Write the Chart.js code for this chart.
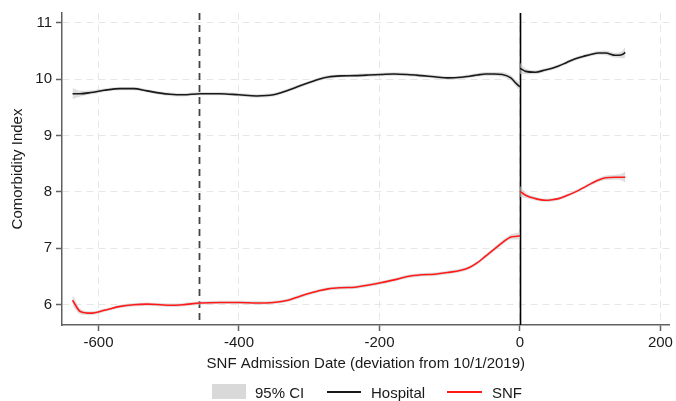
<!DOCTYPE html>
<html><head><meta charset="utf-8">
<script src="https://cdn.jsdelivr.net/npm/chart.js@4"></script>
<style>
html,body{margin:0;padding:0;background:#fff;}
#wrap{position:relative;width:676px;height:401px;}
#c{position:absolute;left:0;top:0;}
.lg{position:absolute;font-family:"Liberation Sans",Arial,sans-serif;font-size:15px;color:#1a1a1a;line-height:17px;white-space:nowrap;}
.sw{position:absolute;}
</style>
</head><body>
<div id="wrap">
<canvas id="c" width="676" height="401"></canvas>
<div class="sw" style="left:212px;top:384px;width:34px;height:15px;background:#d9d9d9;"></div>
<div class="lg" style="left:255px;top:384px;">95% CI</div>
<div class="sw" style="left:327px;top:391px;width:34px;height:1.5px;background:#1a1a1a;"></div>
<div class="lg" style="left:371px;top:384px;">Hospital</div>
<div class="sw" style="left:447px;top:391px;width:35px;height:1.5px;background:#ff1a1a;"></div>
<div class="lg" style="left:492px;top:384px;">SNF</div>
</div>
<script>
// ---- data ----
const preX = [-637,-626,-611,-592,-569,-550,-531,-512,-498,-480,-455,-427,-400,-375,-351,-330,-313,-297,-285,-273,-255,-235,-215,-198,-179,-160,-140,-122,-103,-84,-72,-61,-49,-37,-25,-13,-6,0];
const hospPre = [9.74,9.74,9.76,9.80,9.83,9.83,9.79,9.75,9.73,9.72,9.74,9.74,9.72,9.70,9.72,9.80,9.88,9.95,10.0,10.035,10.055,10.06,10.07,10.08,10.09,10.08,10.06,10.04,10.02,10.03,10.05,10.07,10.09,10.09,10.08,10.02,9.93,9.86];
const snfPre = [6.08,5.88,5.85,5.90,5.97,6.00,6.01,6.00,5.99,6.00,6.03,6.04,6.04,6.03,6.04,6.08,6.15,6.21,6.25,6.28,6.30,6.31,6.35,6.39,6.44,6.50,6.53,6.54,6.57,6.61,6.66,6.74,6.86,6.98,7.10,7.20,7.21,7.22];
const ciPre = [0.10,0.05,0.035,0.03,0.03,0.03,0.03,0.03,0.03,0.03,0.03,0.03,0.03,0.03,0.03,0.03,0.03,0.03,0.03,0.03,0.03,0.03,0.03,0.03,0.03,0.03,0.03,0.03,0.03,0.03,0.03,0.03,0.035,0.035,0.04,0.045,0.055,0.07];
const postX = [0,8,22,36,46,55,66,79,90,102,112,122,136,145,150];
const hospPost = [10.19,10.135,10.12,10.16,10.19,10.23,10.29,10.36,10.40,10.44,10.46,10.46,10.42,10.43,10.47];
const snfPost = [8.01,7.94,7.88,7.85,7.86,7.88,7.93,8.00,8.07,8.15,8.21,8.25,8.26,8.26,8.26];
const ciPost = [0.10,0.05,0.035,0.03,0.03,0.03,0.03,0.03,0.03,0.03,0.035,0.04,0.045,0.06,0.10];
const xTicks = [-600,-400,-200,0,200];
const yTicks = [6,7,8,9,10,11];
const refDashed = -457;
const refSolid = 0;

const FONT = '"Liberation Sans", Arial, sans-serif';
function pts(xs, ys, off) { return xs.map((x,i)=>({x:x, y: ys[i] + (off ? off[i] : 0)})); }
function neg(a){ return a.map(v=>-v); }
function band(xs, ys, ci) {
  return [
    {data: pts(xs, ys, ci), borderWidth:0, pointRadius:0, fill:'+1', backgroundColor:'rgba(200,200,200,0.6)', cubicInterpolationMode:'monotone', order:2},
    {data: pts(xs, ys, neg(ci)), borderWidth:0, pointRadius:0, fill:false, cubicInterpolationMode:'monotone', order:2}
  ];
}
function line(xs, ys, color) {
  return {data: pts(xs, ys), borderColor: color, borderWidth:1.6, pointRadius:0, fill:false, cubicInterpolationMode:'monotone', order:1};
}
const datasets = [
  ...band(preX, hospPre, ciPre), ...band(postX, hospPost, ciPost),
  ...band(preX, snfPre, ciPre), ...band(postX, snfPost, ciPost),
  line(preX, hospPre, '#1a1a1a'), line(postX, hospPost, '#1a1a1a'),
  line(preX, snfPre, '#ff1a1a'), line(postX, snfPost, '#ff1a1a')
];

const refLines = {
  id:'refLines',
  beforeDatasetsDraw(chart){
    const {ctx, chartArea:a, scales:{x}} = chart;
    ctx.save();
    let px = Math.round(x.getPixelForValue(refDashed)) + 0.5;
    ctx.strokeStyle = '#444'; ctx.lineWidth = 1.8; ctx.setLineDash([7,5]);
    ctx.beginPath(); ctx.moveTo(px, a.top); ctx.lineTo(px, a.bottom); ctx.stroke();
    px = Math.round(x.getPixelForValue(refSolid)) + 0.5;
    ctx.strokeStyle = '#000'; ctx.lineWidth = 1.6; ctx.setLineDash([]);
    ctx.beginPath(); ctx.moveTo(px, a.top); ctx.lineTo(px, a.bottom); ctx.stroke();
    ctx.restore();
  }
};

new Chart(document.getElementById('c'), {
  type:'line',
  data:{datasets},
  options:{
    responsive:false, animation:false, devicePixelRatio:1,
    layout:{padding:{left:0, top:9, right:4, bottom:27}},
    plugins:{legend:{display:false}, tooltip:{enabled:false}},
    scales:{
      x:{type:'linear', min:-652, max:213,
        afterBuildTicks(s){ s.ticks = xTicks.map(v=>({value:v})); },
        afterFit(s){ s.height = 49; },
        grid:{color:'#e6e6e6', lineWidth:1, drawTicks:true, tickLength:6, tickColor:'#606060', tickWidth:1.5, tickBorderDash:[]},
        border:{color:'#606060', width:1.5, dash:[7,5]},
        ticks:{font:{family:FONT, size:15}, color:'#1a1a1a', padding:3, maxRotation:0, autoSkip:false, callback:v=>String(v)},
        title:{display:true, text:'SNF Admission Date (deviation from 10/1/2019)', font:{family:FONT, size:15}, color:'#1a1a1a', padding:{top:2,bottom:1}}
      },
      y:{type:'linear', min:5.64, max:11.17,
        afterBuildTicks(s){ s.ticks = yTicks.map(v=>({value:v})); },
        afterFit(s){ s.width = 62; },
        grid:{color:'#e6e6e6', lineWidth:1, drawTicks:true, tickLength:6, tickColor:'#606060', tickWidth:1.5, tickBorderDash:[]},
        border:{color:'#606060', width:1.5, dash:[7,5]},
        ticks:{font:{family:FONT, size:15}, color:'#1a1a1a', padding:4, autoSkip:false, callback:v=>String(v)},
        title:{display:true, text:'Comorbidity Index', font:{family:FONT, size:15}, color:'#1a1a1a', padding:{top:9,bottom:0}}
      }
    }
  },
  plugins:[refLines]
});
</script>
</body></html>
